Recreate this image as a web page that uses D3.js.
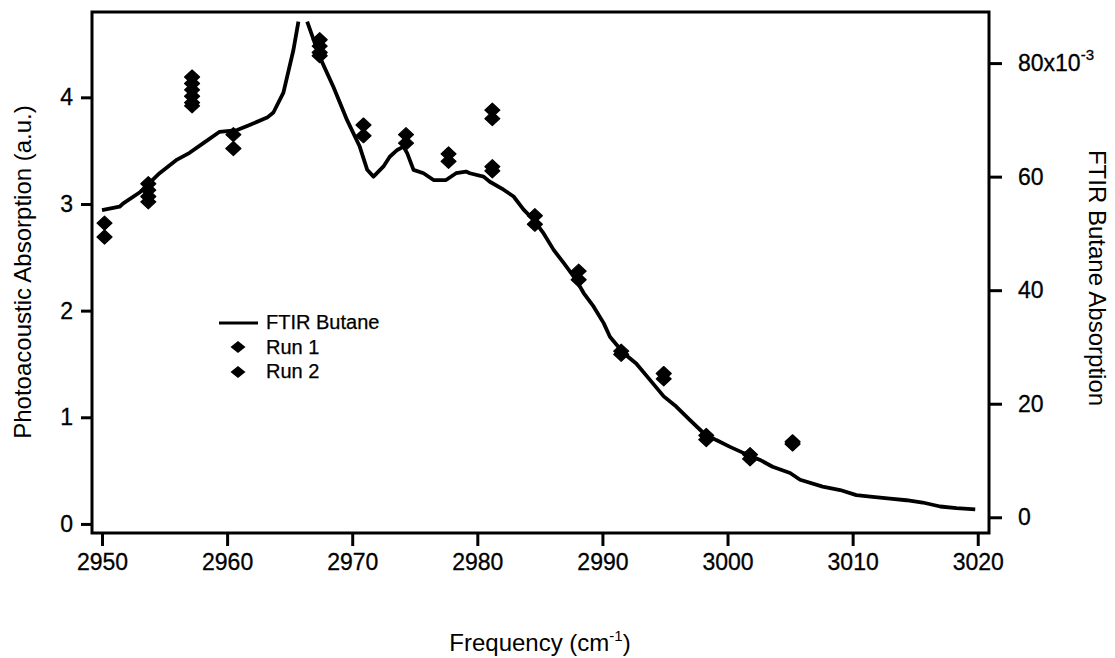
<!DOCTYPE html>
<html>
<head>
<meta charset="utf-8">
<script src="https://cdn.jsdelivr.net/npm/d3@7"></script>
<style>
  html, body { margin: 0; padding: 0; background: #fff; }
  svg { display: block; font-family: "Liberation Sans", Arial, Helvetica, sans-serif; }
</style>
</head>
<body>
<svg id="chart" width="1115" height="658"></svg>
<script>
// FTIR butane spectrum (absorbance, right axis); null marks the off-scale peak
const ftirFreq = [2950.0, 2951.4, 2951.7, 2953.0, 2954.6, 2956.0, 2957.0, 2958.1, 2959.4, 2960.8,
  2961.8, 2963.2, 2963.7, 2964.5, 2965.3, 2965.7, 2966.0, 2966.4, 2967.4, 2968.5, 2969.6, 2970.6,
  2971.2, 2971.7, 2972.5, 2973.0, 2973.6, 2974.1, 2974.4, 2974.9, 2975.7, 2976.5, 2977.5, 2978.3,
  2979.1, 2979.4, 2980.5, 2981.0, 2982.1, 2982.9, 2983.7, 2984.5, 2985.3, 2986.1, 2986.9, 2987.9,
  2988.5, 2989.3, 2990.1, 2990.6, 2991.7, 2992.7, 2993.8, 2994.9, 2995.9, 2997.0, 2998.1, 2999.1,
  3000.2, 3001.3, 3002.6, 3003.6, 3005.0, 3005.8, 3007.6, 3009.0, 3010.3, 3011.6, 3013.0, 3014.3,
  3015.6, 3017.0, 3018.3, 3019.8];
const ftirAbs = [0.0541, 0.0547, 0.0553, 0.0572, 0.0606, 0.0630, 0.0642, 0.0659, 0.0679, 0.0682,
  0.0691, 0.0704, 0.0713, 0.0748, 0.0823, 0.0873, null, 0.0873, 0.0811, 0.0758, 0.0699, 0.0653,
  0.0612, 0.0600, 0.0618, 0.0635, 0.0647, 0.0653, 0.0641, 0.0612, 0.0606, 0.0594, 0.0594, 0.0606,
  0.0609, 0.0606, 0.0600, 0.0591, 0.0577, 0.0565, 0.0542, 0.0524, 0.0500, 0.0471, 0.0448, 0.0418,
  0.0395, 0.0371, 0.0342, 0.0318, 0.0289, 0.0271, 0.0242, 0.0213, 0.0195, 0.0171, 0.0148, 0.0136,
  0.0124, 0.0113, 0.0101, 0.0089, 0.0078, 0.0066, 0.0054, 0.0048, 0.0039, 0.0036, 0.0033, 0.0030,
  0.0026, 0.0019, 0.0016, 0.0014];

// Photoacoustic measurements (a.u., left axis)
const run1Freq = [2950.2, 2953.7, 2953.7, 2957.2, 2957.2, 2957.2, 2960.5, 2967.4, 2967.4, 2970.9,
  2974.3, 2977.7, 2981.2, 2981.2, 2984.6, 2988.1, 2991.5, 2994.9, 2998.3, 3001.8, 3005.2];
const run1Abs = [2.82, 3.19, 3.07, 4.19, 4.07, 3.95, 3.65, 4.54, 4.42, 3.74,
  3.65, 3.47, 3.88, 3.35, 2.89, 2.37, 1.62, 1.41, 0.83, 0.65, 0.77];
const run2Freq = [2950.2, 2953.7, 2953.7, 2957.2, 2957.2, 2957.2, 2960.5, 2967.4, 2967.4, 2970.9,
  2974.3, 2977.7, 2981.2, 2981.2, 2984.6, 2988.1, 2991.5, 2994.9, 2998.3, 3001.8, 3005.2];
const run2Abs = [2.69, 3.13, 3.02, 4.13, 4.01, 3.92, 3.52, 4.48, 4.39, 3.64,
  3.57, 3.40, 3.80, 3.31, 2.81, 2.29, 1.59, 1.36, 0.79, 0.61, 0.75];

// Axis ticks
const xTicks = [2950, 2960, 2970, 2980, 2990, 3000, 3010, 3020];
const leftTicks = [0, 1, 2, 3, 4];
const rightTicks = [0, 0.02, 0.04, 0.06, 0.08];

const legendLabels = ["FTIR Butane", "Run 1", "Run 2"];

const svg = d3.select("#chart");
const plot = { left: 92, right: 989, top: 12, bottom: 533 };

const x = d3.scaleLinear().domain([2949.2, 3020.9]).range([plot.left, plot.right]);
const yL = d3.scaleLinear().domain([-0.085, 4.80]).range([plot.bottom, plot.top]);
const yR = d3.scaleLinear().domain([-0.00277, 0.0890]).range([plot.bottom, plot.top]);

const tickFont = 23;

// Bottom axis
const xAxis = svg.append("g")
  .attr("transform", `translate(0,${plot.bottom})`)
  .call(d3.axisBottom(x).tickValues(xTicks).tickSize(13).tickPadding(8).tickFormat(d3.format("d")));
xAxis.select(".domain").remove();

// Left axis
const lAxis = svg.append("g")
  .attr("transform", `translate(${plot.left},0)`)
  .call(d3.axisLeft(yL).tickValues(leftTicks).tickSize(11).tickPadding(8).tickFormat(d3.format("d")));
lAxis.select(".domain").remove();

// Right axis
const rAxis = svg.append("g")
  .attr("transform", `translate(${plot.right},0)`)
  .call(d3.axisRight(yR).tickValues(rightTicks).tickSize(13).tickPadding(16)
    .tickFormat(d => String(Math.round(d * 1000))));
rAxis.select(".domain").remove();

[xAxis, lAxis, rAxis].forEach(g => {
  g.selectAll("line").attr("stroke", "#000").attr("stroke-width", 3);
  g.selectAll("text").attr("fill", "#000").attr("font-size", tickFont)
    .attr("stroke", "#000").attr("stroke-width", 0.3)
    .attr("font-family", '"Liberation Sans", Arial, Helvetica, sans-serif');
});

// Exponent on the top right-axis label
rAxis.selectAll(".tick text")
  .filter(d => d === 0.08)
  .text("80x10")
  .append("tspan").attr("dy", -11).attr("font-size", 15).text("-3");

// Plot frame
svg.append("rect")
  .attr("x", plot.left).attr("y", plot.top)
  .attr("width", plot.right - plot.left).attr("height", plot.bottom - plot.top)
  .attr("fill", "none").attr("stroke", "#000").attr("stroke-width", 3);

// FTIR spectrum line
const ftirData = ftirFreq.map((f, i) => ({ f, v: ftirAbs[i] }));
const line = d3.line()
  .defined(d => d.v !== null)
  .x(d => x(d.f))
  .y(d => yR(d.v));
svg.append("path")
  .datum(ftirData)
  .attr("d", line)
  .attr("fill", "none")
  .attr("stroke", "#000")
  .attr("stroke-width", 3.8)
  .attr("stroke-linejoin", "round");

// Diamond marker shapes
const diamond = "M0,-7L7.5,0L0,7L-7.5,0Z";
const legendDiamond = "M0,-6L7.5,0L0,6L-7.5,0Z";

const run1Data = run1Freq.map((f, i) => ({ f, v: run1Abs[i] }));
const run2Data = run2Freq.map((f, i) => ({ f, v: run2Abs[i] }));

[run1Data, run2Data].forEach(data => {
  svg.append("g").selectAll("path")
    .data(data)
    .join("path")
    .attr("d", diamond)
    .attr("transform", d => `translate(${x(d.f)},${yL(d.v)})`)
    .attr("fill", "#000")
    .attr("stroke", "#000")
    .attr("stroke-width", 1.2)
    .attr("stroke-linejoin", "round");
});

// Legend
const legend = svg.append("g").attr("font-size", 20).attr("fill", "#000");
legend.append("line")
  .attr("x1", 219).attr("x2", 258).attr("y1", 323).attr("y2", 323)
  .attr("stroke", "#000").attr("stroke-width", 3);
legend.append("path").attr("d", legendDiamond).attr("transform", "translate(238,347)");
legend.append("path").attr("d", legendDiamond).attr("transform", "translate(238,372)");
legendLabels.forEach((t, i) => {
  legend.append("text").attr("x", 266).attr("y", 329 + i * 24.5)
    .attr("stroke", "#000").attr("stroke-width", 0.25).text(t);
});

// Axis titles
svg.append("text")
  .attr("transform", "translate(31,272) rotate(-90)")
  .attr("text-anchor", "middle")
  .attr("font-size", 24)
  .text("Photoacoustic Absorption (a.u.)");

svg.append("text")
  .attr("transform", "translate(1089,278) rotate(90)")
  .attr("text-anchor", "middle")
  .attr("font-size", 24)
  .text("FTIR Butane Absorption");

const xt = svg.append("text")
  .attr("x", 540).attr("y", 651)
  .attr("text-anchor", "middle")
  .attr("font-size", 24)
  .text("Frequency (cm");
xt.append("tspan").attr("dy", -10).attr("font-size", 15).text("-1");
xt.append("tspan").attr("dy", 10).text(")");
</script>
</body>
</html>
